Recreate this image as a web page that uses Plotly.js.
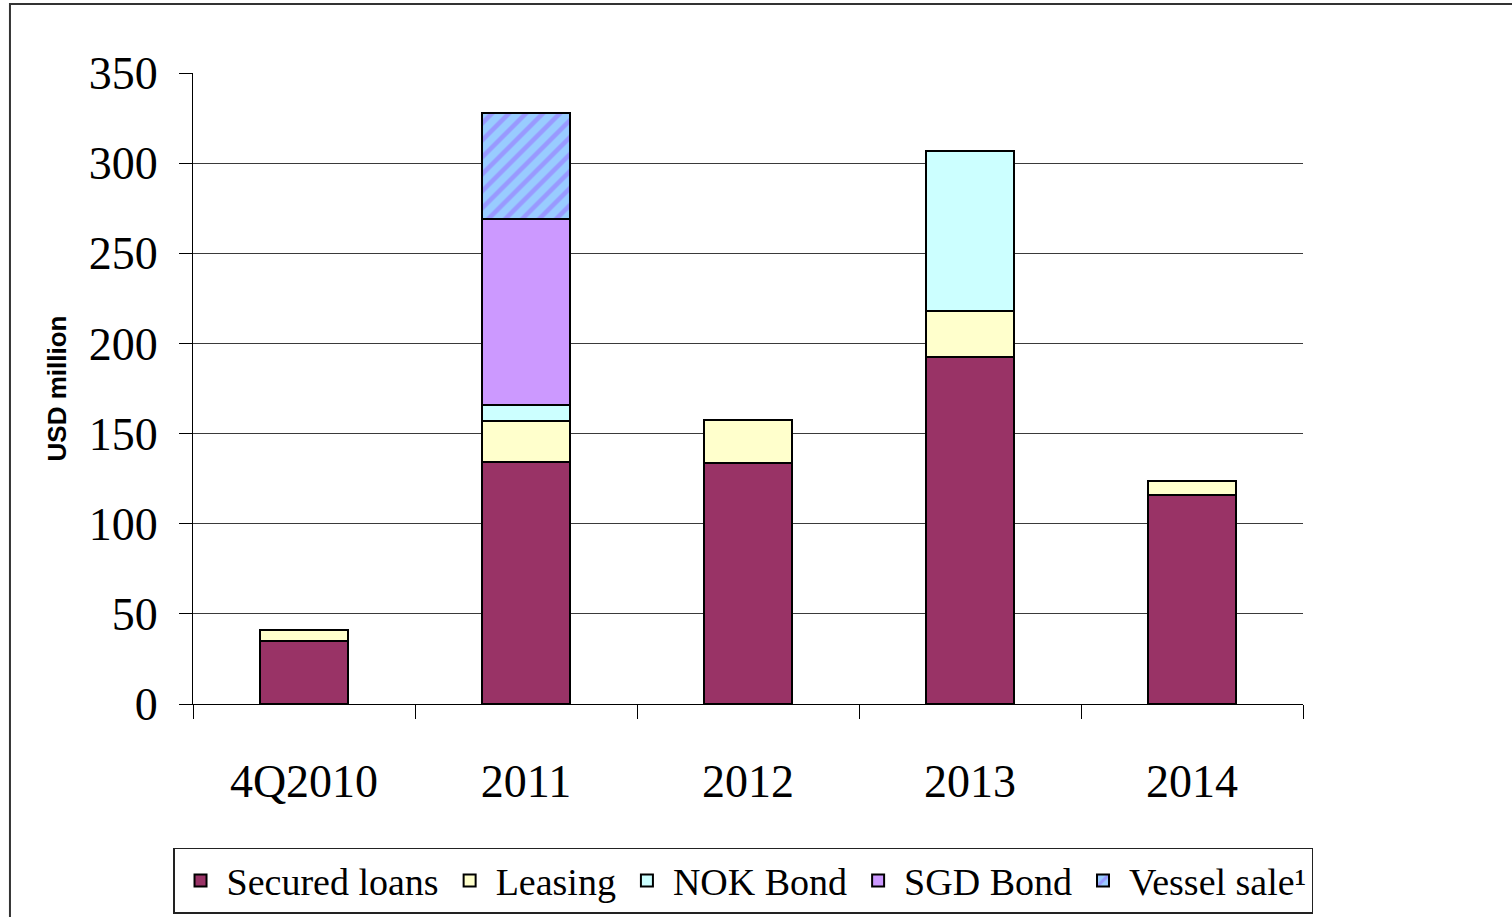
<!DOCTYPE html>
<html>
<head>
<meta charset="utf-8">
<script src="https://cdn.plot.ly/plotly-3.0.1.min.js"></script>
<style>
html,body{margin:0;padding:0;background:#fff;}
#chart{width:1512px;height:917px;}
</style>
</head>
<body>
<div id="chart"></div>
<script>
const categories = ["4Q2010", "2011", "2012", "2013", "2014"];
const securedLoans = [35, 134.5, 133.5, 192.5, 116];
const leasing = [6, 22.5, 24, 25.5, 7.5];
const nokBond = [0, 9, 0, 88.5, 0];
const sgdBond = [0, 103, 0, 0, 0];
const vesselSale = [0, 59, 0, 0, 0];
const yTicks = [0, 50, 100, 150, 200, 250, 300, 350];
const gridTicks = [50, 100, 150, 200, 250, 300];

const serif = "Liberation Serif, Times New Roman, serif";
const outline = {color: "#000", width: 2};

function barTrace(name, values, color, pattern) {
  const marker = {color: color, line: outline};
  if (pattern) marker.pattern = pattern;
  return {
    type: "bar", name: name, x: categories, y: values,
    width: 0.4, marker: marker, hoverinfo: "x+y+name"
  };
}

const traces = [
  barTrace("Secured loans", securedLoans, "#993366"),
  barTrace("Leasing", leasing, "#FFFFCC"),
  barTrace("NOK Bond", nokBond, "#CCFFFF"),
  barTrace("SGD Bond", sgdBond, "#CC99FF"),
  barTrace("Vessel sale\u00B9", vesselSale, "#99CCFF",
    {shape: "/", fgcolor: "#9999FF", bgcolor: "#99CCFF", size: 12, solidity: 0.38, fillmode: "replace"}),
  {type: "scatter", x: [categories[0]], y: [0], yaxis: "y2", mode: "markers",
   marker: {opacity: 0}, showlegend: false, hoverinfo: "skip"}
];

const layout = {
  width: 1512, height: 917,
  margin: {l: 193, r: 209, t: 73, b: 213, autoexpand: false},
  paper_bgcolor: "#fff", plot_bgcolor: "rgba(0,0,0,0)",
  barmode: "stack",
  showlegend: true,
  font: {family: serif, color: "#000"},
  xaxis: {
    type: "category", tickson: "boundaries",
    ticks: "outside", ticklen: 14, tickwidth: 1, tickcolor: "#000",
    showline: true, linecolor: "#000", linewidth: 1,
    showgrid: false, zeroline: false,
    tickfont: {family: serif, size: 46, color: "#000"},
    ticklabelstandoff: 37
  },
  yaxis: {
    range: [0, 350], tickvals: yTicks, ticktext: yTicks.map(String),
    ticks: "outside", ticklen: 13, tickwidth: 1, tickcolor: "#000",
    showline: true, linecolor: "#000", linewidth: 1,
    showgrid: false, zeroline: false,
    tickfont: {family: serif, size: 46, color: "#000"},
    ticklabelstandoff: 12,
    title: {text: "<b>USD million</b>", font: {family: "Liberation Sans, Arial, sans-serif", size: 26, color: "#000"}, standoff: 14}
  },
  yaxis2: {
    overlaying: "y", range: [0, 350], tickvals: gridTicks,
    showticklabels: false, ticks: "", showgrid: true,
    gridcolor: "#3a3a3a", gridwidth: 1, zeroline: false, showline: false
  },
  legend: {
    orientation: "h", x: -0.018, xanchor: "left", y: -0.228, yanchor: "top",
    font: {family: serif, size: 38, color: "#000"},
    bordercolor: "#222", borderwidth: 1.5, bgcolor: "#fff",
    traceorder: "normal", itemwidth: 42, tracegroupgap: 0
  },
  shapes: [
    {type: "path", xref: "paper", yref: "paper", layer: "below",
     path: "M -0.1649,-0.36 L -0.1649,1.1093 L 1.2,1.1093",
     line: {color: "#333", width: 2}}
  ]
};

Plotly.newPlot("chart", traces, layout, {displayModeBar: false, staticPlot: true});
</script>
</body>
</html>
